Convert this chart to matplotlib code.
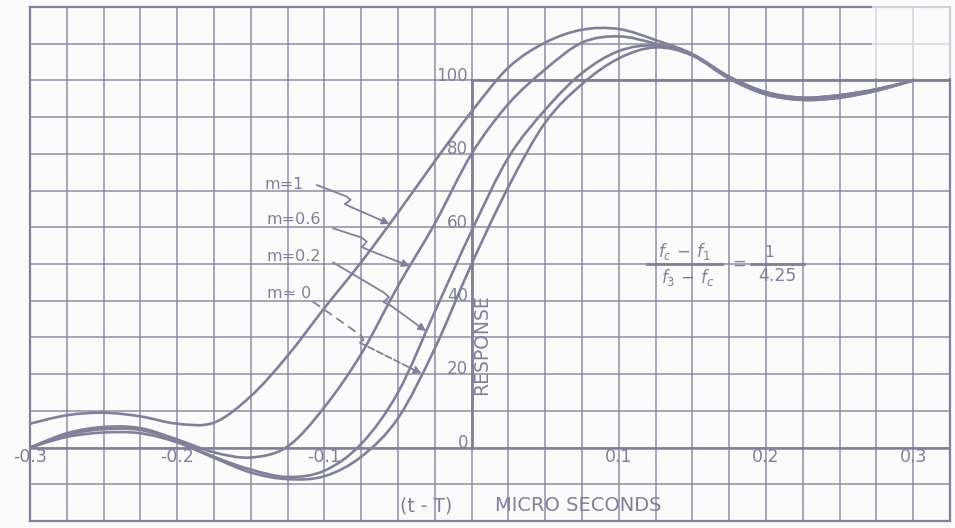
import numpy as np
import matplotlib
matplotlib.use("Agg")
import matplotlib.pyplot as plt
from matplotlib.path import Path
from matplotlib.patches import PathPatch, Rectangle

# ---------------- data ----------------
t = [-0.3, -0.275, -0.25, -0.225, -0.2, -0.175, -0.15, -0.125, -0.1, -0.075,
     -0.05, -0.025, 0.0, 0.025, 0.05, 0.075, 0.1, 0.125, 0.15, 0.175, 0.2,
     0.225, 0.25, 0.275, 0.3]
resp_m1 = [6.5, 8.8, 9.5, 8.5, 6.5, 6.8, 14.0, 25.0, 38.0, 50.5, 64.0, 78.0, 91.5,
           103.5, 110.3, 113.8, 114.0, 111.0, 107.2, 101.0, 96.8, 95.3, 96.0, 97.6, 100.0]
resp_m06 = [0.0, 3.9, 5.6, 5.3, 2.2, -1.3, -2.7, 0.3, 11.0, 25.5, 44.0, 61.0, 80.0,
            93.6, 103.0, 110.3, 112.0, 110.0, 107.0, 101.0, 96.8, 95.3, 96.0, 97.6, 100.0]
resp_m02 = [0.0, 3.5, 5.0, 4.8, 1.8, -2.5, -6.0, -8.0, -6.3, 1.0, 15.0, 37.0, 59.0,
            79.0, 92.0, 102.0, 108.0, 109.5, 106.8, 100.5, 96.2, 94.7, 95.3, 97.2, 100.0]
resp_m0 = [0.0, 2.9, 4.1, 3.9, 1.4, -2.8, -6.8, -8.6, -7.8, -2.5, 8.0, 27.0, 50.0,
           71.0, 88.5, 99.0, 106.0, 109.0, 106.8, 100.5, 96.2, 94.7, 95.3, 97.2, 100.0]
x_tick_vals = [-0.3, -0.2, -0.1, 0.1, 0.2, 0.3]
x_tick_labels = ["-0.3", "-0.2", "-0.1", "0.1", "0.2", "0.3"]
y_tick_vals = [0, 20, 40, 60, 80, 100]
y_tick_labels = ["0", "20", "40", "60", "80", "100"]
curve_labels = ["m=1", "m=0.6", "m=0.2", "m\u2243 0"]

# ---------------- style ----------------
INK = "#80809a"
BG = "#fbfbfc"

fig = plt.figure(figsize=(9.55, 5.28), dpi=100, facecolor=BG)
ax = fig.add_axes([30 / 955, 7 / 528, 920 / 955, 514 / 528])
ax.set_facecolor(BG)
ax.set_xlim(-0.3, 0.325)
ax.set_ylim(-20, 120)
ax.set_xticks(np.linspace(-0.3, 0.325, 26))
ax.set_yticks(np.linspace(-20, 120, 15))
ax.tick_params(length=0, labelbottom=False, labelleft=False)
ax.grid(True, color=INK, lw=1.15, alpha=0.85)
ax.set_axisbelow(True)
for s in ax.spines.values():
    s.set_color(INK)
    s.set_linewidth(1.6)


def smooth_path(xs, ys):
    pts = np.column_stack([xs, ys]).astype(float)
    verts = [pts[0]]
    codes = [Path.MOVETO]
    n = len(pts)
    for i in range(n - 1):
        p0 = pts[i - 1] if i > 0 else pts[i]
        p1 = pts[i]
        p2 = pts[i + 1]
        p3 = pts[i + 2] if i + 2 < n else pts[i + 1]
        verts += [p1 + (p2 - p0) / 6.0, p2 - (p3 - p1) / 6.0, p2]
        codes += [Path.CURVE4] * 3
    return Path(verts, codes)


# axes lines (y axis at t=0 up to 100, 100% line, zero line)
ax.plot([0, 0], [0, 100], color=INK, lw=2.0, zorder=3)
ax.plot([0, 0.325], [100, 100], color=INK, lw=2.0, zorder=3)
ax.plot([-0.3, 0.325], [0, 0], color=INK, lw=1.8, zorder=3)

# curves
for series in (resp_m1, resp_m06, resp_m02, resp_m0):
    ax.add_patch(PathPatch(smooth_path(t, series), fill=False, edgecolor=INK,
                           lw=1.9, zorder=4, capstyle="round", joinstyle="round"))

# faded top-right corner of the sheet
ax.add_patch(Rectangle((0.272, 100.6), 0.06, 21, facecolor=BG, edgecolor="none",
                       alpha=0.65, zorder=5, clip_on=False))

# tick labels drawn on the sheet
for v, lab in zip(x_tick_vals, x_tick_labels):
    ax.text(v, -2.6, lab, ha="center", va="center", fontsize=12.5, color=INK,
            zorder=6, clip_on=False)
for v, lab in zip(y_tick_vals, y_tick_labels):
    ax.text(-0.0025, v + 1.3, lab, ha="right", va="center", fontsize=12,
            color=INK, zorder=6)
ax.text(0.0068, 28, "RESPONSE", rotation=90, ha="center", va="center",
        fontsize=13.5, color=INK, zorder=6)
ax.text(-0.031, -15.8, "(t - T)", ha="center", va="center", fontsize=13.5,
        color=INK, zorder=6)
ax.text(0.0727, -15.8, "MICRO SECONDS", ha="center", va="center", fontsize=14,
        color=INK, zorder=6)

# ratio annotation
ax.text(0.1447, 53.3, r"$f_c\,-\,f_1$", ha="center", va="center", fontsize=12,
        color=INK, zorder=6)
ax.text(0.1467, 46.4, r"$f_3\,-\,f_c$", ha="center", va="center", fontsize=12,
        color=INK, zorder=6)
ax.plot([0.119, 0.17], [50, 50], color=INK, lw=2.0, zorder=5)
ax.text(0.182, 50.2, "=", ha="center", va="center", fontsize=12, color=INK, zorder=6)
ax.text(0.2024, 53.0, "1", ha="center", va="center", fontsize=11, color=INK, zorder=6)
ax.plot([0.19, 0.226], [50, 50], color=INK, lw=2.0, zorder=5)
ax.text(0.2079, 46.8, "4.25", ha="center", va="center", fontsize=12.5, color=INK,
        zorder=6)

# curve labels with leader lines
label_pos = [(-0.1406, 71.7), (-0.139, 62.1), (-0.139, 52.0), (-0.139, 42.0)]
for (lx, ly), lab in zip(label_pos, curve_labels):
    ax.text(lx, ly, lab, ha="left", va="center", fontsize=11.5, color=INK, zorder=6)

leaders = [
    ([(-0.105, 71.5), (-0.0850, 68.4), (-0.0822, 67.5), (-0.0862, 66.3), (-0.0812, 65.4)],
     resp_m1, -0.0557, "-"),
    ([(-0.094, 59.7), (-0.0747, 57.2), (-0.0712, 56.1), (-0.0745, 54.6), (-0.0695, 53.7)],
     resp_m06, -0.042, "-"),
    ([(-0.094, 50.4), (-0.0595, 42.2), (-0.0562, 41.0), (-0.0598, 39.6), (-0.0550, 38.7)],
     resp_m02, -0.031, "-"),
    ([(-0.108, 39.8), (-0.075, 30.5), (-0.0735, 29.3), (-0.0760, 28.6)],
     resp_m0, -0.034, "--"),
]
for pts, series, tx, ls in leaders:
    xs = [p[0] for p in pts]
    ys = [p[1] for p in pts]
    ax.plot(xs, ys, color=INK, lw=1.3, ls=ls, zorder=5,
            dashes=(5, 3) if ls == "--" else (None, None))
    ty = float(np.interp(tx, t, series))
    ax.annotate("", xy=(tx, ty), xytext=(xs[-1], ys[-1]),
                arrowprops=dict(arrowstyle="-|>", color=INK, lw=1.3,
                                linestyle=ls, mutation_scale=11,
                                shrinkA=0, shrinkB=0),
                zorder=5)

fig.savefig("out.png", dpi=100, facecolor=BG)
